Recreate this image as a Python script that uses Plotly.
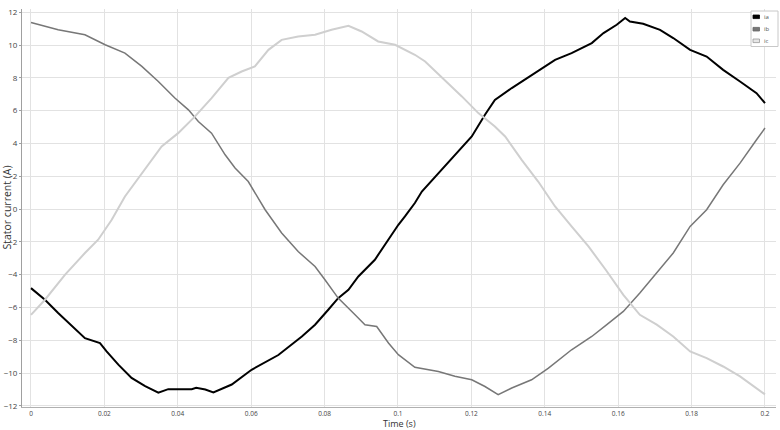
import plotly.graph_objects as go

# ---------------- data ----------------
t_a = [0, 0.0038, 0.0074, 0.0119, 0.0147, 0.0188, 0.0206, 0.0238, 0.0274, 0.0311,
       0.0347, 0.0374, 0.0405, 0.0438, 0.045, 0.0475, 0.0497, 0.0529, 0.0547, 0.0601,
       0.0674, 0.0738, 0.0774, 0.081, 0.0837, 0.0865, 0.0892, 0.0937, 0.0974, 0.1001,
       0.1019, 0.1046, 0.1065, 0.111, 0.1155, 0.1201, 0.1237, 0.1264, 0.131, 0.1364,
       0.1428, 0.1473, 0.1528, 0.156, 0.1596, 0.1619, 0.1632, 0.1668, 0.1714, 0.175,
       0.1796, 0.1841, 0.1886, 0.1932, 0.1977, 0.2]
i_a = [-4.82, -5.53, -6.34, -7.26, -7.87, -8.17, -8.68, -9.49, -10.3, -10.8,
       -11.2, -10.98, -11.0, -10.98, -10.9, -11.0, -11.18, -10.85, -10.7, -9.8,
       -8.9, -7.77, -7.05, -6.14, -5.43, -4.92, -4.11, -3.09, -1.87, -0.96,
       -0.45, 0.37, 1.07, 2.2, 3.3, 4.43, 5.75, 6.66, 7.38, 8.19,
       9.1, 9.51, 10.12, 10.73, 11.24, 11.65, 11.44, 11.3, 10.93, 10.43,
       9.71, 9.3, 8.49, 7.78, 7.07, 6.46]

t_b = [0, 0.0074, 0.0147, 0.0202, 0.0256, 0.0302, 0.0347, 0.0392, 0.0429, 0.0456,
       0.0492, 0.0529, 0.0556, 0.0592, 0.0638, 0.0683, 0.0728, 0.0774, 0.0801, 0.0837,
       0.0883, 0.091, 0.0942, 0.0974, 0.1001, 0.1046, 0.111, 0.1155, 0.1201, 0.1237,
       0.1273, 0.131, 0.1364, 0.141, 0.1473, 0.1528, 0.1569, 0.1614, 0.1659, 0.1705,
       0.175, 0.1796, 0.1841, 0.1886, 0.1932, 0.1977, 0.2]
i_b = [11.38, 10.93, 10.63, 10.02, 9.51, 8.7, 7.78, 6.77, 6.05, 5.34,
       4.63, 3.31, 2.5, 1.68, -0.04, -1.46, -2.59, -3.5, -4.31, -5.43,
       -6.45, -7.05, -7.16, -8.17, -8.88, -9.65, -9.9, -10.2, -10.41, -10.82,
       -11.32, -10.91, -10.41, -9.7, -8.58, -7.77, -7.05, -6.24, -5.12, -3.9,
       -2.68, -1.06, -0.04, 1.48, 2.8, 4.23, 4.94]

t_c = [0, 0.0038, 0.0093, 0.0147, 0.0183, 0.022, 0.0256, 0.0302, 0.0356, 0.0401,
       0.0447, 0.0492, 0.0538, 0.0574, 0.061, 0.0647, 0.0683, 0.0728, 0.0774, 0.0819,
       0.0865, 0.0901, 0.0946, 0.0992, 0.1019, 0.1046, 0.1074, 0.1128, 0.1174, 0.1219,
       0.1264, 0.1292, 0.1337, 0.1382, 0.1428, 0.1473, 0.1519, 0.1566, 0.1614, 0.1659,
       0.1705, 0.175, 0.1796, 0.1841, 0.1886, 0.1932, 0.1977, 0.2]
i_c = [-6.45, -5.53, -4.0, -2.68, -1.87, -0.65, 0.77, 2.2, 3.82, 4.63,
       5.65, 6.77, 8.0, 8.39, 8.7, 9.71, 10.32, 10.52, 10.63, 10.93,
       11.18, 10.83, 10.22, 10.02, 9.71, 9.41, 9.0, 7.88, 6.87, 5.85,
       5.04, 4.43, 3.0, 1.68, 0.16, -1.06, -2.28, -3.7, -5.23, -6.45,
       -7.05, -7.77, -8.68, -9.09, -9.6, -10.2, -10.9, -11.3]

series_names = ["ia", "ib", "ic"]
x_ticks = [0, 0.02, 0.04, 0.06, 0.08, 0.1, 0.12, 0.14, 0.16, 0.18, 0.2]
x_tick_labels = ["0", "0.02", "0.04", "0.06", "0.08", "0.1", "0.12", "0.14", "0.16", "0.18", "0.2"]
y_ticks = [-12, -10, -8, -6, -4, -2, 0, 2, 4, 6, 8, 10, 12]

colors = ["#000000", "#777777", "#cfcfcf"]
widths = [2.0, 1.5, 2.0]

fig = go.Figure()
for tx, iy, name, c, w in zip([t_a, t_b, t_c], [i_a, i_b, i_c], series_names, colors, widths):
    fig.add_trace(go.Scatter(x=tx, y=iy, mode="lines", name=name,
                             line=dict(color=c, width=w), showlegend=False))

FONT = "Open Sans"
TOP, BOT = 9, 23
PLOT_H = 430 - TOP - BOT
fig.update_layout(
    width=780, height=430,
    margin=dict(l=22, r=4, t=TOP, b=BOT),
    paper_bgcolor="white", plot_bgcolor="white",
    font=dict(family=FONT, color="#333333"),
    xaxis=dict(range=[-0.00245, 0.2030], tickvals=x_ticks, ticktext=x_tick_labels,
               showgrid=True, gridcolor="#e2e2e2", gridwidth=1, zeroline=False,
               showline=True, linecolor="#b0b0b0", linewidth=1,
               ticks="",
               tickfont=dict(size=6.5, family=FONT, color="#444"), automargin=False),
    yaxis=dict(range=[-12.07, 12.2], tickvals=y_ticks,
               showgrid=True, gridcolor="#e2e2e2", gridwidth=1, zeroline=False,
               showline=True, linecolor="#a0a0a0", linewidth=1,
               ticks="outside", ticklen=2, tickcolor="#a0a0a0",
               tickfont=dict(size=8, family=FONT, color="#444"), automargin=False),
)

# axis titles
fig.add_annotation(text="Time (s)", xref="paper", yref="paper", x=0.5, y=0,
                   xanchor="center", yanchor="middle", yshift=-16.5, showarrow=False,
                   borderpad=0, font=dict(size=9, family=FONT, color="#333"))
fig.add_annotation(text="Stator current (A)", xref="paper", yref="paper", x=-0.0205, y=0.5,
                   xanchor="center", yanchor="middle", textangle=-90, showarrow=False,
                   font=dict(size=10.5, family=FONT, color="#333"))

# custom legend box
def px_x(p):
    return (p - 22) / 754.0

def px_y(p):
    return (430 - BOT - p) / PLOT_H

fig.add_shape(type="rect", xref="paper", yref="paper",
              x0=px_x(751), x1=px_x(778), y0=px_y(46.5), y1=px_y(11),
              line=dict(color="#c8c8c8", width=1), fillcolor="white", layer="above")
sw_y = [16.8, 29.2, 40.8]
sw_border = ["#000000", "#666666", "#999999"]
sw_fill = ["#000000", "#777777", "#e6e6e6"]
for name, yy, fc, bc in zip(series_names, sw_y, sw_fill, sw_border):
    fig.add_shape(type="rect", xref="paper", yref="paper",
                  x0=px_x(753), x1=px_x(759.5), y0=px_y(yy + 1.8), y1=px_y(yy - 1.8),
                  line=dict(color=bc, width=0.8), fillcolor=fc, layer="above")
    fig.add_annotation(text=name, xref="paper", yref="paper", x=px_x(762), y=px_y(yy),
                       xanchor="left", yanchor="middle", showarrow=False,
                       font=dict(size=6, family=FONT, color="#555"))

fig.write_html("out.html", config={"displayModeBar": False},
               post_script="document.body.style.margin='0';document.body.style.padding='0';")
